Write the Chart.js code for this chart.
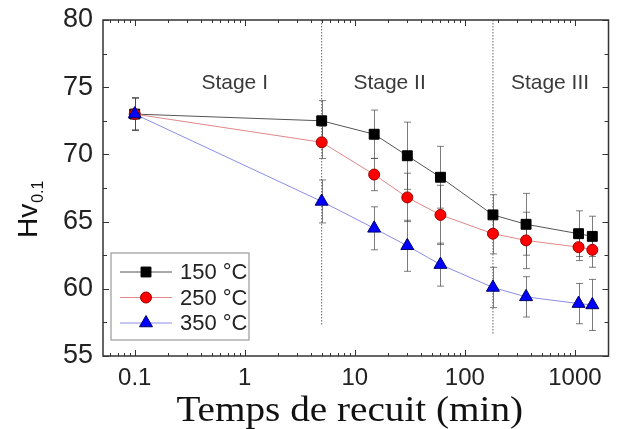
<!DOCTYPE html>
<html>
<head>
<meta charset="utf-8">
<script src="https://cdn.jsdelivr.net/npm/chart.js@4/dist/chart.umd.min.js"></script>
<style>
  html, body { margin: 0; padding: 0; background: #fff; }
  #wrap { width: 617px; height: 429px; }
</style>
</head>
<body>
<div id="wrap"><canvas id="hv-chart" width="617" height="429"></canvas></div>
<script>
'use strict';

// annealing time (min)
const times = [0.1, 5, 15, 30, 60, 180, 360, 1080, 1440];

// Hv0.1 values and error bars per temperature
const hv150 = [73.0, 72.5, 71.5, 69.9, 68.3, 65.5, 64.8, 64.1, 63.9];
const err150 = [1.2, 1.5, 1.8, 2.5, 2.3, 1.5, 2.3, 1.7, 1.5];
const hv250 = [73.0, 70.9, 68.5, 66.8, 65.5, 64.1, 63.6, 63.1, 62.9];
const err250 = [1.2, 1.2, 1.2, 1.8, 2.2, 1.5, 2.1, 1.0, 1.3];
const hv350 = [73.0, 66.5, 64.5, 63.2, 61.8, 60.1, 59.4, 58.9, 58.8];
const err350 = [1.2, 1.6, 1.6, 1.9, 1.6, 1.5, 1.5, 1.5, 1.9];

const seriesLabels = ['150 °C', '250 °C', '350 °C'];

// stage boundaries and labels
const stageBounds = [5, 180];
const stageBoundLow = [57.3, 56.6];
const stageNames = ['Stage I', 'Stage II', 'Stage III'];
const stageNameX = [0.81, 20.7, 594];

const xTicks = [0.1, 1, 10, 100, 1000];
const yTicks = [55, 60, 65, 70, 75, 80];

const styles = [
    { line: '#555555', fill: '#000000', border: '#000000', shape: 'rect', r: 7 },
    { line: '#e08888', fill: '#ff0000', border: '#990000', shape: 'circle', r: 5.5 },
    { line: '#8c8ce6', fill: '#0000ff', border: '#000066', shape: 'triangle', r: 7.5 }
];

function toPoints(ys) {
    return times.map((t, i) => ({ x: t, y: ys[i] }));
}

const values = [hv150, hv250, hv350];
const errors = [err150, err250, err350];

const datasets = values.map((ys, i) => ({
    label: seriesLabels[i],
    data: toPoints(ys),
    borderColor: styles[i].line,
    borderWidth: 1,
    backgroundColor: styles[i].fill,
    pointBackgroundColor: styles[i].fill,
    pointBorderColor: styles[i].border,
    pointBorderWidth: 1,
    pointStyle: styles[i].shape,
    pointRadius: styles[i].r,
    tension: 0,
    order: i === 0 ? 2 : (i === 1 ? 1 : 0),
    errs: errors[i]
}));

stageBounds.forEach((x, i) => {
    datasets.push({
        label: 'bound' + i,
        data: [{ x: x, y: 80 }, { x: x, y: stageBoundLow[i] }],
        borderColor: '#666666',
        borderWidth: 1,
        borderDash: [1.5, 1.5],
        pointRadius: 0,
        order: 5
    });
});

const errorBars = {
    id: 'errorBars',
    beforeDatasetsDraw(chart) {
        const ctx = chart.ctx;
        const xs = chart.scales.x, ys = chart.scales.y;
        ctx.save();
        ctx.strokeStyle = 'rgba(70,70,70,0.7)';
        ctx.lineWidth = 1;
        chart.data.datasets.forEach(ds => {
            if (!ds.errs) return;
            ds.data.forEach((p, i) => {
                const px = Math.round(xs.getPixelForValue(p.x)) + 0.5;
                const top = ys.getPixelForValue(p.y + ds.errs[i]);
                const bot = ys.getPixelForValue(p.y - ds.errs[i]);
                ctx.beginPath();
                ctx.moveTo(px, top); ctx.lineTo(px, bot);
                ctx.moveTo(px - 3.5, top); ctx.lineTo(px + 3.5, top);
                ctx.moveTo(px - 3.5, bot); ctx.lineTo(px + 3.5, bot);
                ctx.stroke();
            });
        });
        ctx.restore();
    }
};

const decor = {
    id: 'decor',
    afterDraw(chart) {
        const ctx = chart.ctx;
        const a = chart.chartArea;
        const xs = chart.scales.x, ys = chart.scales.y;
        ctx.save();

        // frame
        ctx.strokeStyle = '#333333';
        ctx.lineWidth = 1.5;
        ctx.strokeRect(a.left, a.top, a.right - a.left, a.bottom - a.top);

        // inward ticks, x axis (log, with minors)
        ctx.lineWidth = 1;
        for (let k = -2; k <= 4; k++) {
            for (let m = 1; m <= 9; m++) {
                const v = m * Math.pow(10, k);
                if (v < xs.min || v > xs.max) continue;
                const px = Math.round(xs.getPixelForValue(v)) + 0.5;
                const len = m === 1 ? 6 : 3;
                ctx.beginPath();
                ctx.moveTo(px, a.bottom); ctx.lineTo(px, a.bottom - len);
                ctx.moveTo(px, a.top); ctx.lineTo(px, a.top + len);
                ctx.stroke();
            }
        }
        // inward ticks, y axis
        for (let v = 55; v <= 80; v += 2.5) {
            const py = Math.round(ys.getPixelForValue(v)) + 0.5;
            const len = v % 5 === 0 ? 6 : 4;
            ctx.beginPath();
            ctx.moveTo(a.left, py); ctx.lineTo(a.left + len, py);
            ctx.moveTo(a.right, py); ctx.lineTo(a.right - len, py);
            ctx.stroke();
        }

        // stage names
        ctx.fillStyle = '#3a3a3a';
        ctx.font = '21px Arial, "Liberation Sans", sans-serif';
        ctx.textAlign = 'center';
        ctx.textBaseline = 'middle';
        stageNames.forEach((s, i) => {
            ctx.fillText(s, xs.getPixelForValue(stageNameX[i]), ys.getPixelForValue(75.3));
        });

        // legend
        const lx = a.left + 8, ly = 253, lw = 138, lh = 87;
        ctx.strokeStyle = '#9a9a9a';
        ctx.lineWidth = 1.2;
        ctx.strokeRect(lx, ly, lw, lh);
        ctx.font = '22px Arial, "Liberation Sans", sans-serif';
        ctx.textAlign = 'left';
        for (let i = 0; i < 3; i++) {
            const ry = ly + 19 + i * 25.5;
            ctx.strokeStyle = styles[i].line;
            ctx.lineWidth = 1;
            ctx.beginPath();
            ctx.moveTo(lx + 9, ry); ctx.lineTo(lx + 61, ry);
            ctx.stroke();
            ctx.fillStyle = styles[i].fill;
            ctx.strokeStyle = styles[i].border;
            Chart.helpers.drawPoint(ctx, {
                pointStyle: styles[i].shape,
                radius: styles[i].r,
                rotation: 0,
                borderWidth: 1
            }, lx + 35, ry);
            ctx.fillStyle = '#222222';
            ctx.fillText(seriesLabels[i], lx + 69, ry + 1);
        }

        // axis titles
        ctx.fillStyle = '#111111';
        ctx.textAlign = 'center';
        ctx.textBaseline = 'alphabetic';
        ctx.save();
        ctx.translate((a.left + a.right) / 2 - 6, 421);
        ctx.scale(1.12, 1);
        ctx.font = '35px "Liberation Serif", "Times New Roman", serif';
        ctx.fillText('Temps de recuit (min)', 0, 0);
        ctx.restore();

        ctx.save();
        ctx.translate(37, 238);
        ctx.rotate(-Math.PI / 2);
        ctx.textAlign = 'left';
        ctx.font = '28px Arial, "Liberation Sans", sans-serif';
        ctx.fillText('Hv', 0, 0);
        const w = ctx.measureText('Hv').width;
        ctx.font = '16px Arial, "Liberation Sans", sans-serif';
        ctx.fillText('0.1', w + 1, 6);
        ctx.restore();

        ctx.restore();
    }
};

new Chart(document.getElementById('hv-chart'), {
    type: 'line',
    data: { datasets: datasets },
    options: {
        responsive: false,
        animation: false,
        layout: { padding: { top: 20, right: 5, left: 0, bottom: 0 } },
        plugins: {
            legend: { display: false },
            tooltip: { enabled: false }
        },
        scales: {
            x: {
                type: 'logarithmic',
                min: 0.0515,
                max: 2020,
                afterBuildTicks: s => { s.ticks = xTicks.map(v => ({ value: v })); },
                afterFit: s => { s.height = 73; s.paddingLeft = 0; s.paddingRight = 0; },
                grid: { display: false, drawTicks: false },
                border: { display: false },
                ticks: {
                    autoSkip: false,
                    maxRotation: 0,
                    padding: 8,
                    color: '#222222',
                    font: { family: 'Arial, "Liberation Sans", sans-serif', size: 24 },
                    callback: v => String(v)
                }
            },
            y: {
                min: 55,
                max: 80,
                afterBuildTicks: s => { s.ticks = yTicks.map(v => ({ value: v })); },
                afterFit: s => { s.width = 103; s.paddingTop = 0; s.paddingBottom = 0; },
                grid: { display: false, drawTicks: false },
                border: { display: false },
                ticks: {
                    padding: 10,
                    color: '#222222',
                    font: { family: 'Arial, "Liberation Sans", sans-serif', size: 27 }
                }
            }
        }
    },
    plugins: [errorBars, decor]
});
</script>
</body>
</html>
